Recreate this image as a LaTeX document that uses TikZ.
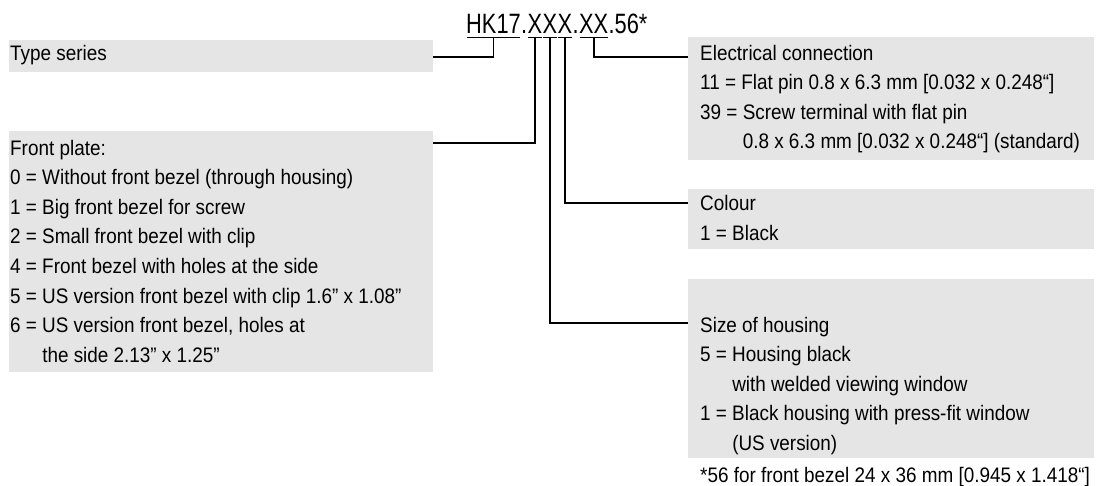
\documentclass[tikz,border=0pt]{standalone}
\usepackage{fontspec}
\setmainfont[FakeStretch=0.9]{Liberation Sans}
\newfontfamily\codefont[FakeStretch=0.78]{Liberation Sans}
\usetikzlibrary{calc}
\definecolor{panel}{HTML}{e5e5e5}

\begin{document}
\begin{tikzpicture}[
    x=1pt, y=-1pt,
    font=\fontsize{21}{25}\selectfont,
    box/.style={fill=panel, draw=none, anchor=north west, inner sep=0pt},
    txt/.style={anchor=base west, inner sep=0pt},
    code/.style={anchor=base west, inner sep=0pt,
                 font=\codefont\fontsize{28}{32}\selectfont},
    leader/.style={line width=1.8pt},
    uline/.style={line width=1.6pt, shorten <=0.8pt, shorten >=0.8pt},
]

% ── Layout (pixel grid, y downwards) ──
\def\ls{29.6}   % line spacing inside the boxes
\def\lx{10}     % text start, left column
\def\rx{700}    % text start, right column

\useasboundingbox (0,0) rectangle (1101,485);

% ── Order code ──
\node[code] (hk) at (466,33) {HK17};
\node[code] (d1) at (hk.base east) {.};
\node[code] (x1) at (d1.base east) {X};
\node[code] (x2) at (x1.base east) {X};
\node[code] (x3) at (x2.base east) {X};
\node[code] (d2) at (x3.base east) {.};
\node[code] (xx) at (d2.base east) {XX};
\node[code] (tail) at (xx.base east) {.56*};

\foreach \n in {hk,x1,x2,x3,xx} {
    \draw[uline] ($(\n.base west)+(0,4.3)$) -- ($(\n.base east)+(0,4.3)$);
    \coordinate (u-\n) at ($(\n.base)+(0,4.3)$);
}

% ── Left column ──
\node[box, minimum width=424, minimum height=32] (tsbox) at (9,40) {};
\node[txt] (ts) at (\lx,60) {Type series};

\node[box, minimum width=424, minimum height=241] (fpbox) at (9,131) {};
\foreach \t [count=\i from 0] in {Front plate:,
        0 = Without front bezel (through housing),
        1 = Big front bezel for screw,
        2 = Small front bezel with clip,
        4 = Front bezel with holes at the side,
        5 = US version front bezel with clip 1.6” x 1.08”,
        {6 = US version front bezel, holes at},
        \phantom{6 = }the side 2.13” x 1.25”} {
    \node[txt] (fp-\i) at (\lx,155+\i*\ls) {\t};
}

% ── Right column ──
\node[box, minimum width=406, minimum height=123] (elbox) at (688,37) {};
\foreach \t [count=\i from 0] in {Electrical connection,
        11 = Flat pin 0.8 x 6.3 mm [0.032 x 0.248“],
        39 = Screw terminal with flat pin,
        \phantom{39 = }0.8 x 6.3 mm [0.032 x 0.248“] (standard)} {
    \node[txt] (el-\i) at (\rx,60+\i*\ls) {\t};
}

\node[box, minimum width=406, minimum height=60] (cobox) at (688,189) {};
\node[txt] (co-0) at (\rx,210) {Colour};
\node[txt] (co-1) at (\rx,240) {1 = Black};

\node[box, minimum width=406, minimum height=179] (shbox) at (688,279) {};
\foreach \t [count=\i from 0] in {Size of housing,
        5 = Housing black,
        \phantom{5 = }with welded viewing window,
        1 = Black housing with press-fit window,
        \phantom{1 = }(US version)} {
    \node[txt] (sh-\i) at (\rx,332+\i*\ls) {\t};
}

\node[txt] (note) at (\rx,482) {*56 for front bezel 24 x 36 mm [0.945 x 1.418“]};

% ── Leaders ──
\coordinate (ts-in) at ($(tsbox.north east)+(0,16.7)$);
\coordinate (fp-in) at ($(fpbox.north east)+(0,12)$);
\coordinate (el-in) at ($(elbox.north west)+(0,19.7)$);
\coordinate (co-in) at ($(cobox.north west)+(0,13.7)$);
\coordinate (sh-in) at ($(shbox.north west)+(0,43.7)$);

\draw[leader] (u-hk) |- (ts-in);
\draw[leader] (u-x1) |- (fp-in);
\draw[leader] (u-x2) |- (sh-in);
\draw[leader] (u-x3) |- (co-in);
\draw[leader] (u-xx) |- (el-in);

\end{tikzpicture}
\end{document}
